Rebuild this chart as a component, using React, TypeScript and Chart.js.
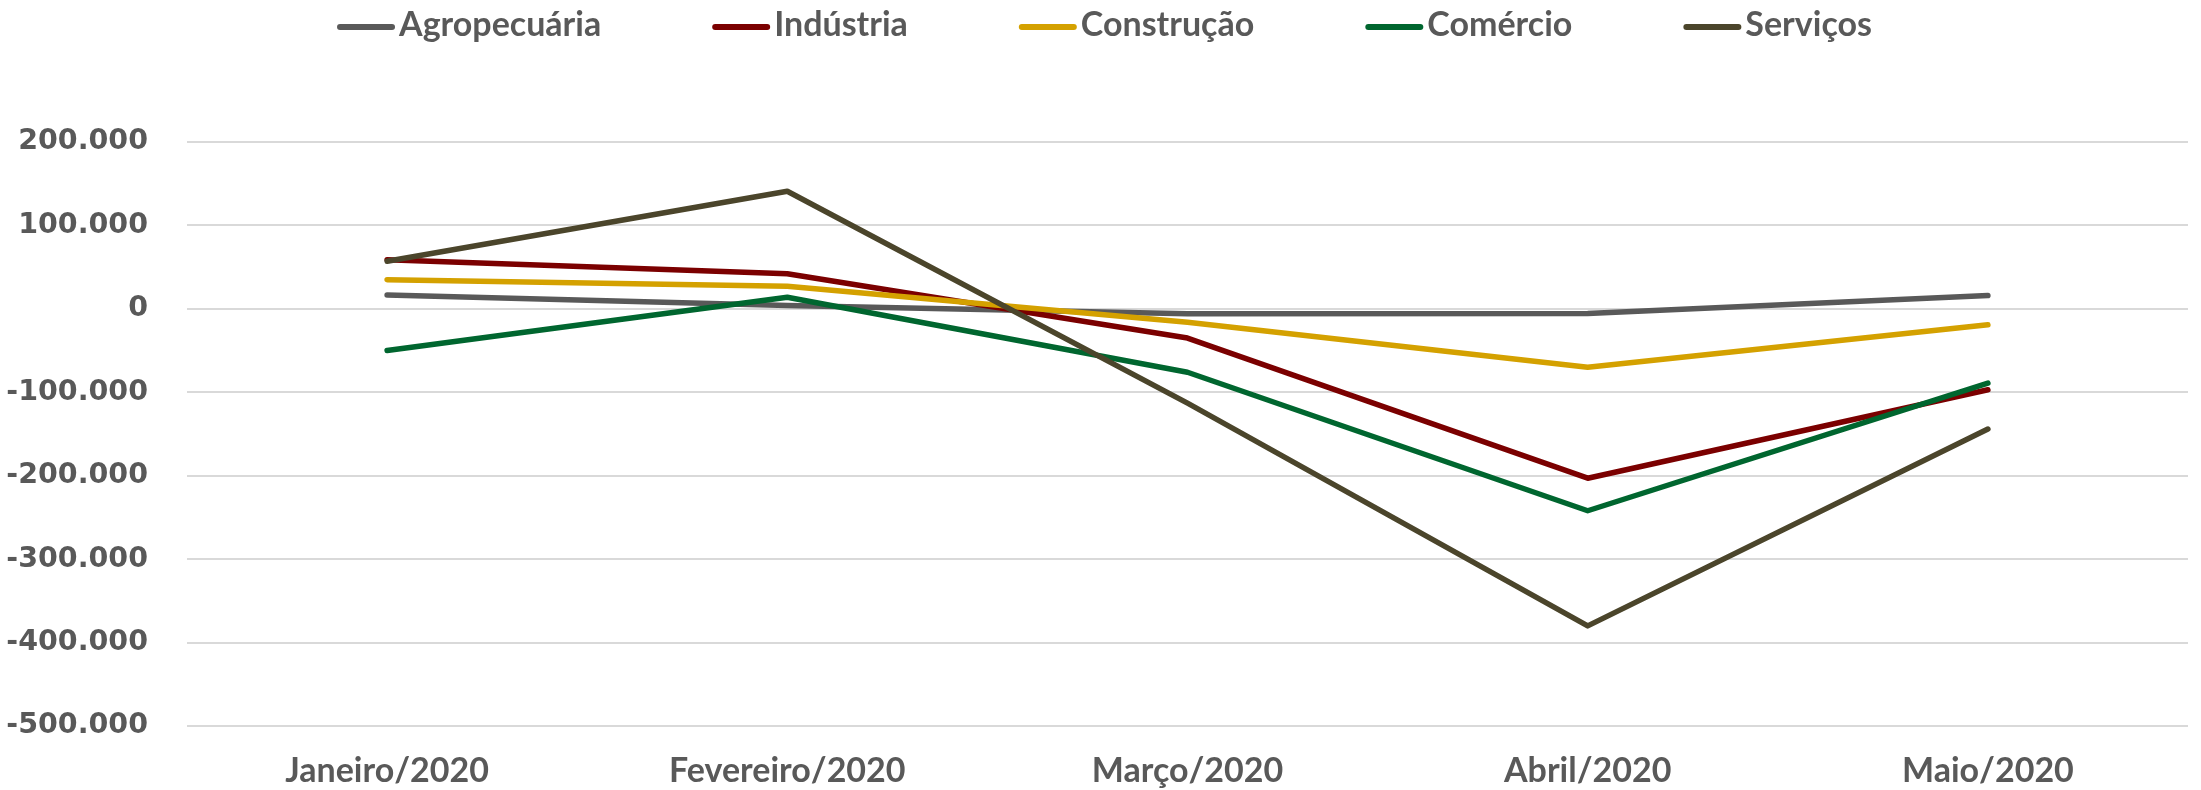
import React, { useEffect, useRef } from "react";
import { Chart, registerables } from "chart.js";

Chart.register(...registerables);

const categories = ["Janeiro/2020", "Fevereiro/2020", "Março/2020", "Abril/2020", "Maio/2020"];
const seriesNames = ["Agropecuária", "Indústria", "Construção", "Comércio", "Serviços"];
const agropecuaria = [16500, 4000, -6000, -5500, 16000];
const industria = [59000, 42000, -35000, -203000, -97000];
const construcao = [35000, 27000, -16000, -70000, -19000];
const comercio = [-50000, 14000, -76000, -242000, -89000];
const servicos = [57000, 141000, -113000, -380000, -144000];
const seriesColors = ["#595959", "#7b0000", "#d4a100", "#00662f", "#4b452b"];
const yMin = -500000;
const yMax = 200000;
const yStep = 100000;

const TEXT = "#595959";

function fmt(v: number): string {
  const s = Math.abs(Math.round(v)).toString().replace(/\B(?=(\d{3})+(?!\d))/g, ".");
  return (v < 0 ? "-" : "") + s;
}

const legendPlugin = {
  id: "customLegend",
  afterDraw(chart: any) {
    const ctx = chart.ctx as CanvasRenderingContext2D;
    ctx.save();
    ctx.font = "bold 34px Lato";
    const lineW = 58;
    const gapIn = 4;
    const gapOut = 111;
    const items = chart.data.datasets.map((ds: any) => ({
      label: ds.label as string,
      color: ds.borderColor as string,
      w: ctx.measureText(ds.label).width,
    }));
    const total =
      items.reduce((s: number, it: any) => s + lineW + gapIn + it.w, 0) + gapOut * (items.length - 1);
    let x = (chart.width - total) / 2 + 4;
    const y = 27;
    items.forEach((it: any) => {
      ctx.strokeStyle = it.color;
      ctx.lineWidth = 6;
      ctx.lineCap = "round";
      ctx.beginPath();
      ctx.moveTo(x + 3, y);
      ctx.lineTo(x + lineW - 3, y);
      ctx.stroke();
      ctx.fillStyle = TEXT;
      ctx.textBaseline = "middle";
      ctx.textAlign = "left";
      ctx.fillText(it.label, x + lineW + gapIn, y - 2);
      x += lineW + gapIn + it.w + gapOut;
    });
    ctx.restore();
  },
};

export default function App() {
  const ref = useRef<HTMLCanvasElement | null>(null);

  useEffect(() => {
    if (!ref.current) return;
    const values = [agropecuaria, industria, construcao, comercio, servicos];
    const chart = new Chart(ref.current, {
      type: "line",
      data: {
        labels: categories,
        datasets: seriesNames.map((name, i) => ({
          label: name,
          data: values[i],
          borderColor: seriesColors[i],
          backgroundColor: seriesColors[i],
          borderWidth: 5.5,
          pointRadius: 0,
          pointHoverRadius: 0,
          tension: 0,
          fill: false,
          borderCapStyle: "round" as const,
          borderJoinStyle: "round" as const,
          order: seriesNames.length - i,
        })),
      },
      options: {
        responsive: false,
        animation: false,
        devicePixelRatio: 1,
        layout: { padding: { top: 142, right: 13, bottom: 0, left: 0 } },
        plugins: {
          legend: { display: false },
          tooltip: { enabled: false },
          title: { display: false },
        },
        scales: {
          x: {
            type: "category",
            offset: true,
            grid: { display: false, drawTicks: false },
            border: { display: false },
            ticks: {
              color: TEXT,
              font: { family: "Lato", weight: "bold", size: 34 },
              padding: 25,
              maxRotation: 0,
              autoSkip: false,
            },
            afterFit(scale: any) {
              scale.height = 64;
            },
          },
          y: {
            min: yMin,
            max: yMax,
            grid: { color: "#d9d9d9", lineWidth: 2, drawTicks: false },
            border: { display: false },
            ticks: {
              stepSize: yStep,
              color: TEXT,
              font: { family: "DejaVu Sans", weight: "bold", size: 28.5 },
              padding: 39,
              callback: (v: any) => fmt(Number(v)),
            },
            afterFit(scale: any) {
              scale.width = 187;
            },
          },
        },
      },
      plugins: [legendPlugin],
    });
    return () => chart.destroy();
  }, []);

  return (
    <div style={{ position: "absolute", left: 0, top: 0, width: 2201, height: 790, background: "#fff" }}>
      <canvas ref={ref} width={2201} height={790} style={{ display: "block" }} />
    </div>
  );
}
